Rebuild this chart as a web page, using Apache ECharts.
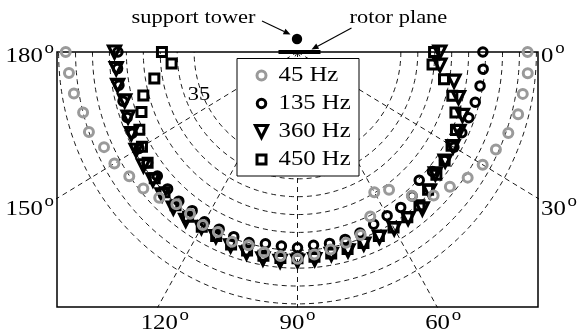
<!DOCTYPE html>
<html>
<head>
<meta charset="utf-8">
<script src="https://cdn.jsdelivr.net/npm/echarts@6/dist/echarts.min.js"></script>
<style>
html, body { margin: 0; padding: 0; background: #fff; }
#chart { width: 579px; height: 335px; }
</style>
</head>
<body>
<div id="chart"></div>
<script>
// Emission angle in degrees: 0 = along the rotor plane (right), 90 = straight below the rotor
const angles = [0, 5, 10, 15, 20, 25, 30, 35, 40, 45, 50, 55, 60, 65, 70, 75, 80, 85, 90,
  95, 100, 105, 110, 115, 120, 125, 130, 135, 140, 145, 150, 155, 160, 165, 170, 175, 180];

// Sound pressure level (dB) of each tone at the angles above
const spl45 = [72.4, 72.7, 72.0, 71.9, 70.7, 69.1, 67.6, 65.8, 63.2, 61.3, 57.0, 51.6, 49.8,
  55.3, 59.0, 59.8, 60.6, 61.4, 62.4, 61.8, 61.4, 60.5, 61.0, 60.1, 60.4, 59.8, 60.1, 62.2,
  63.9, 65.1, 66.9, 67.5, 70.0, 70.0, 71.5, 72.2, 72.9];
const spl135 = [59.2, 59.5, 59.2, 58.8, 58.3, 58.0, 57.8, 57.5, 56.5, 55.3, 57.1, 57.6, 57.4,
  57.7, 58.4, 58.8, 58.9, 58.8, 59.3, 59.0, 59.0, 59.7, 59.5, 59.2, 59.4, 58.7, 59.0, 58.7,
  58.5, 58.5, 58.5, 58.3, 58.0, 57.8, 58.0, 57.8, 57.5];
const spl360 = [46.5, 46.7, 51.4, 53.7, 56.3, 57.1, 57.5, 57.7, 57.6, 59.5, 61.8, 61.4, 61.6,
  61.7, 61.7, 62.1, 62.0, 62.8, 63.0, 63.3, 63.3, 62.7, 62.2, 61.5, 61.2, 62.0, 61.5, 61.0,
  60.2, 60.0, 59.5, 58.6, 57.7, 57.3, 58.4, 58.2, 58.5];
const spl450 = [44.8, 44.5, 48.4, 51.8, 54.1, 56.1, 57.0, 57.5, 58.0, 59.0, 60.5, 61.0, 61.2,
  61.3, 61.4, 61.6, 61.8, 62.0, 62.2, 62.4, 62.4, 62.0, 61.8, 61.3, 61.0, 60.8, 60.5, 60.0,
  59.5, 58.5, 57.5, 56.0, 53.5, 51.6, 47.4, 41.8, 44.5];
const toneNames = ['45 Hz', '135 Hz', '360 Hz', '450 Hz'];

// Polar grid: level at the centre, dashed rings, dashed spokes, angle ticks
const centreLevel = 4.5;
const ringLevels = [35, 40, 45, 50, 55, 60, 65, 70, 75];
const ringLabelText = '35';
const spokeAngles = [30, 60, 90, 120, 150];
const tickAngles = [0, 30, 60, 90, 120, 150, 180];

// ---------------------------------------------------------------------------
const SERIF = 'Liberation Serif';
const STRETCH = 1.18;          // horizontal stretch applied to all text
const TICK_SIZE = 21;
const DEG_SIZE = 16;
const NOTE_SIZE = 19;
const X_HALF = 70.97;          // visible half-width of the plot, in dB above centre
const Y_DEPTH = 71.37;         // visible depth below the rotor plane

function polarToXY(angleDeg, level) {
  const r = level - centreLevel;
  const t = angleDeg * Math.PI / 180;
  return [r * Math.cos(t), -r * Math.sin(t)];
}

const dash = { color: '#000', width: 0.9, type: [5, 4] };
const series = [];

ringLevels.forEach(function (lv) {
  const pts = [];
  for (let a = 0; a <= 180; a += 1) pts.push(polarToXY(a, lv));
  series.push({ type: 'line', data: pts, symbol: 'none', silent: true, animation: false,
    lineStyle: dash, z: 1 });
});
spokeAngles.forEach(function (a) {
  series.push({ type: 'line', data: [[0, 0], polarToXY(a, centreLevel + 150)], symbol: 'none',
    silent: true, animation: false, lineStyle: dash, z: 1 });
});

// marker styles for the four tones
const toneStyles = [
  { symbol: 'circle', size: 9, rotate: 0, stroke: '#9a9a9a', width: 3, z: 8 },
  { symbol: 'circle', size: 8.5, rotate: 0, stroke: '#000', width: 3, z: 7 },
  { symbol: 'triangle', size: 12, rotate: 180, stroke: '#000', width: 3.2, z: 5 },
  { symbol: 'rect', size: 9, rotate: 0, stroke: '#000', width: 3, z: 6 }
];
const toneValues = [spl45, spl135, spl360, spl450];

toneValues.forEach(function (vals, i) {
  const st = toneStyles[i];
  series.push({
    name: toneNames[i], type: 'scatter', animation: false, z: st.z,
    symbol: st.symbol, symbolSize: st.size, symbolRotate: st.rotate,
    itemStyle: { color: 'rgba(0,0,0,0)', borderColor: st.stroke, borderWidth: st.width, opacity: 1 },
    data: angles.map(function (a, k) { return polarToXY(a, vals[k]); })
  });
});

const chart = echarts.init(document.getElementById('chart'), null, { renderer: 'canvas' });
chart.setOption({
  backgroundColor: '#fff',
  animation: false,
  grid: { left: 57, top: 52, width: 481, height: 255, show: true,
    borderColor: '#000', borderWidth: 1.5, backgroundColor: 'rgba(0,0,0,0)' },
  xAxis: { type: 'value', min: -X_HALF, max: X_HALF, show: false },
  yAxis: { type: 'value', min: -Y_DEPTH, max: 0, show: false },
  series: series
});

// ---------------------------------------------------------------------------
// Text, legend and rotor sketch drawn as graphic elements
const measureCtx = document.createElement('canvas').getContext('2d');
function textWidth(str, size) {
  measureCtx.font = size + 'px ' + SERIF;
  return measureCtx.measureText(str).width;
}
function px(pt) { return chart.convertToPixel({ gridIndex: 0 }, pt); }

function stretchedText(str, size, x, y, align, z) {
  const w = textWidth(str, size) * STRETCH;
  const left = align === 'left' ? x : (align === 'right' ? x - w : x - w / 2);
  return { type: 'text', x: left, y: y, scaleX: STRETCH, z: z || 20,
    style: { text: str, fontSize: size, fontFamily: SERIF, fill: '#000', align: 'left', verticalAlign: 'middle' } };
}

function degreeLabel(value, x, y, align) {
  const digits = String(value);
  const wD = textWidth(digits, TICK_SIZE);
  const wO = textWidth('o', DEG_SIZE);
  const total = (wD + 1.5 + wO) * STRETCH;
  const left = align === 'left' ? x : (align === 'right' ? x - total : x - total / 2);
  return { type: 'group', x: left, y: y, scaleX: STRETCH, z: 20, children: [
    { type: 'text', x: 0, y: 0, z: 20, style: { text: digits, fontSize: TICK_SIZE, fontFamily: SERIF, fill: '#000', align: 'left', verticalAlign: 'middle' } },
    { type: 'text', x: wD + 1.5, y: -7.5, z: 20, style: { text: 'o', fontSize: DEG_SIZE, fontFamily: SERIF, fill: '#000', align: 'left', verticalAlign: 'middle' } }
  ] };
}

function edgePoint(a) {
  const t = a * Math.PI / 180, cx = Math.cos(t), sy = Math.sin(t);
  let k = Infinity;
  if (Math.abs(cx) > 1e-9) k = Math.min(k, X_HALF / Math.abs(cx));
  if (sy > 1e-9) k = Math.min(k, Y_DEPTH / sy);
  return [k * cx, -k * sy];
}

// pixel nudges of each angle label from where its direction meets the frame
const tickNudge = { 0: [3, 4], 30: [3, 11], 60: [6, 16], 90: [0, 16], 120: [7, 16], 150: [-3, 11], 180: [-3, 4] };

const graphics = [];
tickAngles.forEach(function (a) {
  const p = px(edgePoint(a));
  const n = tickNudge[a];
  const align = a < 45 ? 'left' : (a > 135 ? 'right' : 'center');
  graphics.push(degreeLabel(a, p[0] + n[0], p[1] + n[1], align));
});

// ring value label
const rl = px(polarToXY(156, ringLabelText * 1));
graphics.push(stretchedText(ringLabelText, NOTE_SIZE, rl[0] - 4, rl[1] - 1, 'center'));

// legend
const c0 = px([0, 0]);
const lg = { x: c0[0] - 60.5, y: 58.5, w: 122, h: 117.5, row0: 75.5, step: 28, mx: c0[0] - 36, tx: c0[0] - 19 };
graphics.push({ type: 'rect', z: 15, shape: { x: lg.x, y: lg.y, width: lg.w, height: lg.h },
  style: { fill: '#fff', stroke: '#000', lineWidth: 1 } });
toneNames.forEach(function (name, i) {
  const st = toneStyles[i];
  const cy = lg.row0 + i * lg.step;
  const s = st.size;
  let shape;
  if (st.symbol === 'circle') {
    shape = { type: 'circle', shape: { cx: lg.mx, cy: cy, r: s / 2 } };
  } else if (st.symbol === 'rect') {
    shape = { type: 'rect', shape: { x: lg.mx - s / 2, y: cy - s / 2, width: s, height: s } };
  } else {
    shape = { type: 'polygon', shape: { points: [[lg.mx - s / 2, cy - s / 2], [lg.mx + s / 2, cy - s / 2], [lg.mx, cy + s / 2]] } };
  }
  shape.z = 16;
  shape.style = { fill: 'none', stroke: st.stroke, lineWidth: st.width, lineJoin: 'miter' };
  graphics.push(shape);
  graphics.push(stretchedText(name, TICK_SIZE, lg.tx, cy, 'left', 16));
});

// rotor plane bar, support tower and their callouts
graphics.push({ type: 'rect', z: 12, shape: { x: c0[0] - 19, y: c0[1] - 2, width: 42, height: 4 }, style: { fill: '#000' } });
graphics.push({ type: 'circle', z: 12, shape: { cx: c0[0] - 0.5, cy: c0[1] - 13, r: 5.2 }, style: { fill: '#000' } });

function arrow(x1, y1, x2, y2) {
  const ang = Math.atan2(y2 - y1, x2 - x1), L = 7, W = 3;
  const bx = x2 - L * Math.cos(ang), by = y2 - L * Math.sin(ang);
  return [
    { type: 'line', z: 12, shape: { x1: x1, y1: y1, x2: bx, y2: by }, style: { stroke: '#000', lineWidth: 1.1 } },
    { type: 'polygon', z: 12, shape: { points: [[x2, y2],
      [bx + W * Math.sin(ang), by - W * Math.cos(ang)], [bx - W * Math.sin(ang), by + W * Math.cos(ang)]] },
      style: { fill: '#000' } }
  ];
}
graphics.push.apply(graphics, arrow(c0[0] - 35.5, c0[1] - 31, c0[0] - 7, c0[1] - 17.5));
graphics.push.apply(graphics, arrow(c0[0] + 54, c0[1] - 24, c0[0] + 14, c0[1] - 2.5));
graphics.push(stretchedText('support tower', NOTE_SIZE, c0[0] - 42, c0[1] - 34, 'right'));
graphics.push(stretchedText('rotor plane', NOTE_SIZE, c0[0] + 52, c0[1] - 34, 'left'));

chart.setOption({ graphic: { elements: graphics } });
</script>
</body>
</html>
